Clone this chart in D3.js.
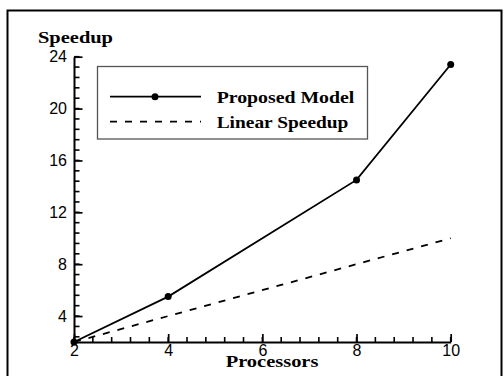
<!DOCTYPE html>
<html>
<head>
<meta charset="utf-8">
<script src="https://cdn.jsdelivr.net/npm/d3@7"></script>
<style>
  body { margin: 0; background: #fff; }
  .lbl { font-family: "Liberation Serif", "Times New Roman", serif; font-weight: bold; font-size: 17px; fill: #000; }
</style>
</head>
<body>
<div id="chart"></div>
<script>
var width = 504,
    height = 376

var processors = [2, 4, 8, 10]
var proposed = [2, 5.5, 14.5, 23.4]
var linear = [2, 4, 8, 10]
var xTicks = [2, 4, 6, 8, 10]
var yTicks = [4, 8, 12, 16, 20, 24]

var x = d3.scaleLinear().domain([2, 10]).range([74, 450.7])
var y = d3.scaleLinear().domain([2, 24]).range([342, 56.7])

var svg = d3.select('#chart').append('svg')
    .attr('width', width)
    .attr('height', height)

// outer frame
svg.append('rect')
    .attr('x', 7.5).attr('y', 10.5)
    .attr('width', 494).attr('height', 370)
    .attr('fill', 'none').attr('stroke', '#000').attr('stroke-width', 2)

// minor ticks (every 0.4 on x, every 0.8 on y)
var xMinor = d3.range(2, 10.001, 0.4)
var yMinor = d3.range(2.4, 24.001, 0.8)

svg.append('g').selectAll('line')
    .data(xMinor)
    .enter().append('line')
        .attr('x1', function(d) { return x(d) })
        .attr('x2', function(d) { return x(d) })
        .attr('y1', y(2))
        .attr('y2', y(2) - 5)
        .attr('stroke', '#000').attr('stroke-width', 1.6)

svg.append('g').selectAll('line')
    .data(yMinor)
    .enter().append('line')
        .attr('x1', x(2))
        .attr('x2', x(2) + 5.5)
        .attr('y1', function(d) { return y(d) })
        .attr('y2', function(d) { return y(d) })
        .attr('stroke', '#000').attr('stroke-width', 1.6)

// major axes
var xAxis = svg.append('g')
    .attr('transform', 'translate(0,342)')
    .call(d3.axisBottom(x).tickValues(xTicks).tickSizeInner(-8).tickSizeOuter(0).tickPadding(3))
xAxis.select('.domain').attr('stroke-width', 2)
xAxis.selectAll('line').attr('stroke-width', 1.7)

var yAxis = svg.append('g')
    .attr('transform', 'translate(74,0)')
    .call(d3.axisLeft(y).tickValues(yTicks).tickSizeInner(-8.5).tickSizeOuter(0).tickPadding(7))
yAxis.select('.domain').attr('stroke-width', 2)
yAxis.selectAll('line').attr('stroke-width', 1.7)

svg.selectAll('.tick text')
    .attr('font-family', '"Liberation Sans", Arial, sans-serif')
    .attr('font-size', 16)
    .attr('fill', '#000')

// axis titles
svg.append('text').attr('class', 'lbl')
    .attr('x', 38).attr('y', 43)
    .attr('textLength', 75).attr('lengthAdjust', 'spacingAndGlyphs')
    .text('Speedup')

svg.append('text').attr('class', 'lbl')
    .attr('x', 225.7).attr('y', 367)
    .attr('textLength', 92.7).attr('lengthAdjust', 'spacingAndGlyphs')
    .text('Processors')

// lines
var line = d3.line()
    .x(function(d) { return x(d[0]) })
    .y(function(d) { return y(d[1]) })

svg.append('path')
    .datum(d3.zip(processors, linear))
    .attr('d', line)
    .attr('fill', 'none').attr('stroke', '#000').attr('stroke-width', 1.8)
    .attr('stroke-dasharray', '7,8')

svg.append('path')
    .datum(d3.zip(processors, proposed))
    .attr('d', line)
    .attr('fill', 'none').attr('stroke', '#000').attr('stroke-width', 1.8)

svg.selectAll('circle.pt')
    .data(d3.zip(processors, proposed))
    .enter().append('circle')
        .attr('class', 'pt')
        .attr('cx', function(d) { return x(d[0]) })
        .attr('cy', function(d) { return y(d[1]) })
        .attr('r', 3.5)
        .attr('fill', '#000')

// legend
var legend = svg.append('g')
legend.append('rect')
    .attr('x', 97.5).attr('y', 66.5)
    .attr('width', 270).attr('height', 72.5)
    .attr('fill', '#fff').attr('stroke', '#555').attr('stroke-width', 1.3)

legend.append('line')
    .attr('x1', 110).attr('x2', 201).attr('y1', 96.7).attr('y2', 96.7)
    .attr('stroke', '#000').attr('stroke-width', 1.8)
legend.append('circle')
    .attr('cx', 155).attr('cy', 96.7).attr('r', 3.5).attr('fill', '#000')
legend.append('text').attr('class', 'lbl')
    .attr('x', 216.7).attr('y', 102.5)
    .attr('textLength', 137.6).attr('lengthAdjust', 'spacingAndGlyphs')
    .text('Proposed Model')

legend.append('line')
    .attr('x1', 110).attr('x2', 201).attr('y1', 121.7).attr('y2', 121.7)
    .attr('stroke', '#000').attr('stroke-width', 1.8)
    .attr('stroke-dasharray', '7,8')
legend.append('text').attr('class', 'lbl')
    .attr('x', 216.7).attr('y', 127.5)
    .attr('textLength', 131.7).attr('lengthAdjust', 'spacingAndGlyphs')
    .text('Linear Speedup')
</script>
</body>
</html>
